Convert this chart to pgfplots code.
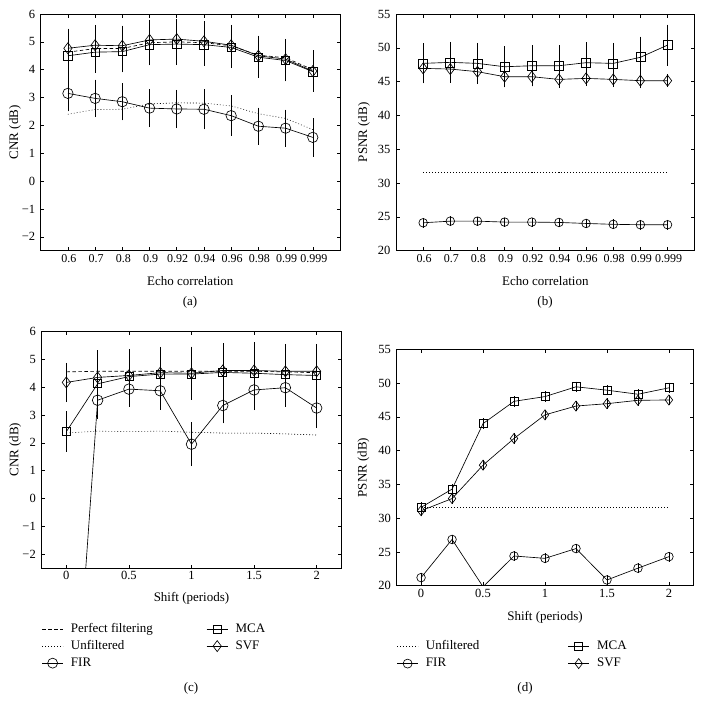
\documentclass[border=0pt]{standalone}
\usepackage{fontspec}
\setmainfont{Liberation Serif}
\usepackage{pgfplots}
\usepackage{pgfplotstable}
\pgfplotsset{compat=1.18}

% (a) CNR vs echo correlation
\pgfplotstableread{
x fir fire unf perf mca mcae svf svfe
0 3.15 0.52 2.40 4.63 4.50 0.60 4.77 0.58
1 2.97 0.55 2.57 4.76 4.63 0.62 4.88 0.60
2 2.85 0.54 2.58 4.76 4.65 0.62 4.86 0.60
3 2.62 0.56 2.77 4.97 4.90 0.62 5.07 0.60
4 2.59 0.56 2.81 5.00 4.92 0.63 5.10 0.60
5 2.58 0.60 2.80 4.97 4.90 0.63 5.02 0.60
6 2.35 0.60 2.70 4.86 4.80 0.62 4.88 0.60
7 1.97 0.54 2.42 4.52 4.45 0.62 4.50 0.60
8 1.90 0.54 2.25 4.43 4.33 0.62 4.38 0.60
9 1.57 0.57 1.85 4.00 3.93 0.60 3.95 0.62
}\tabA
% (b) PSNR vs echo correlation
\pgfplotstableread{
x fir fire unf mca mcae svf svfe
0 24.13 0.35 31.6 47.70 2.50 46.96 1.70
1 24.37 0.35 31.6 47.85 2.60 46.86 1.60
2 24.37 0.30 31.6 47.70 2.60 46.47 1.40
3 24.23 0.30 31.6 47.20 2.60 45.73 1.10
4 24.23 0.30 31.6 47.35 2.60 45.73 1.00
5 24.18 0.30 31.6 47.35 2.60 45.33 0.80
6 24.03 0.30 31.6 47.80 2.60 45.48 0.70
7 23.90 0.35 31.6 47.70 2.60 45.33 0.70
8 23.84 0.35 31.6 48.60 2.60 45.14 0.70
9 23.84 0.35 31.6 50.40 2.60 45.14 0.50
}\tabB
% (c) CNR vs shift
\pgfplotstableread{
x fir fire unf perf mca mcae svf svfe
0 -12.4 0.60 2.35 4.55 2.40 0.60 4.17 0.58
0.25 3.53 0.55 2.42 4.57 4.12 0.72 4.35 0.85
0.5 3.93 0.50 2.40 4.57 4.38 0.72 4.42 0.82
0.75 3.87 0.55 2.42 4.57 4.47 0.68 4.52 0.80
1 1.95 0.66 2.38 4.57 4.47 0.68 4.50 0.83
1.25 3.34 0.52 2.35 4.57 4.53 0.66 4.60 0.85
1.5 3.90 0.60 2.35 4.57 4.50 0.65 4.60 0.88
1.75 3.98 0.55 2.32 4.55 4.45 0.65 4.57 0.86
2 3.25 0.60 2.28 4.52 4.42 0.64 4.57 0.86
}\tabC
% (d) PSNR vs shift
\pgfplotstableread{
x fir fire unf mca mcae svf svfe
0 21.20 0.35 31.55 31.60 0.40 31.10 0.40
0.25 26.85 0.35 31.55 34.30 0.40 32.90 0.40
0.5 19.85 0.35 31.55 44.00 0.40 37.85 0.40
0.75 24.40 0.35 31.55 47.30 0.40 41.80 0.40
1 24.05 0.35 31.55 48.00 0.40 45.30 0.40
1.25 25.50 0.35 31.55 49.45 0.40 46.60 0.40
1.5 20.85 0.35 31.55 48.95 0.40 46.95 0.40
1.75 22.60 0.35 31.55 48.35 0.40 47.45 0.40
2 24.30 0.35 31.55 49.30 0.40 47.50 0.40
}\tabD

\newcommand\tickfont{\fontsize{12.5}{14}\selectfont}
\newcommand\labfont{\fontsize{13}{15}\selectfont}

\pgfplotsset{
  panel/.style={
    scale only axis, anchor=south west,
    axis line style={line width=0.6pt},
    tick align=inside, major tick length=3.5pt,
    tick style={black, line width=0.5pt},
    /pgf/number format/assume math mode=true,
    tick label style={font=\tickfont},
    label style={font=\labfont},
    yticklabel style={xshift=-2pt},
    clip marker paths=true,
    legend cell align=left,
    legend image code/.code={\draw[mark repeat=2,mark phase=2,##1]
      plot coordinates {(0pt,0pt) (10.5pt,0pt) (21pt,0pt)};},
  },
  echo/.style={xmin=-1, xmax=10, xtick={0,...,9},
    xticklabels={0.6,0.7,0.8,0.9,0.92,0.94,0.96,0.98,0.99,0.999},
    xticklabel style={font=\fontsize{12}{14}\selectfont, xshift=1pt}},
  ln/.style={black, line width=0.65pt},
  perf/.style={ln, dash pattern=on 3.5pt off 2.5pt, mark=none},
  unf/.style={black, line width=0.6pt, dash pattern=on 0.8pt off 2.2pt, mark=none},
  fir/.style={ln, mark=o, mark size=#1, mark options={solid}},
  mca/.style={ln, mark=square, mark size=#1, mark options={solid}},
  svf/.style={ln, mark=diamond, mark size=#1, mark options={solid}},
  eb/.style={
    /pgfplots/error bars/y dir=both,
    /pgfplots/error bars/y explicit,
    /pgfplots/error bars/error bar style={black, line width=0.55pt},
    /pgfplots/error bars/error mark options={black, line width=0.55pt, mark size=#1}},
  leg/.style={legend columns=2,
    legend style={at={(axis description cs:0.001,#1)}, anchor=north west,
      draw=none, fill=none, inner sep=0pt, font=\labfont,
      nodes={inner sep=1.5pt, text height=9pt, text depth=3pt},
      row sep=2pt,
      /tikz/every odd column/.append style={column sep=6pt}}},
}

\begin{document}
\begin{tikzpicture}
\path[use as bounding box] (0,0) rectangle (704pt,-702pt);

% ---------- (a)
\begin{axis}[panel, echo, at={(40.7pt,-250.7pt)}, width=299.3pt, height=236.7pt,
  ymin=-2.5, ymax=6,
  ytick={-2,...,6}, yticklabels={−2,−1,0,1,2,3,4,5,6},
  xlabel={Echo correlation}, ylabel={CNR (dB)},
  x label style={at={(axis description cs:0.5,-0.128)}, anchor=center},
  y label style={at={(axis description cs:-0.086,0.5)}, anchor=center},
]
\addplot[unf] table[x=x,y=unf] {\tabA};
\addplot[perf] table[x=x,y=perf] {\tabA};
\addplot[mca=4.2pt, eb=3.5pt] table[x=x,y=mca,y error=mcae] {\tabA};
\addplot[svf=5.5pt, eb=3.5pt] table[x=x,y=svf,y error=svfe] {\tabA};
\addplot[fir=5.2pt, eb=3.5pt] table[x=x,y=fir,y error=fire] {\tabA};
\end{axis}

% ---------- (b)
\begin{axis}[panel, echo, at={(396pt,-250.7pt)}, width=298.7pt, height=236.7pt,
  ymin=20, ymax=55,
  ytick={20,25,...,55},
  xlabel={Echo correlation}, ylabel={PSNR (dB)},
  x label style={at={(axis description cs:0.5,-0.128)}, anchor=center},
  y label style={at={(axis description cs:-0.107,0.5)}, anchor=center},
]
\addplot[unf] table[x=x,y=unf] {\tabB};
\addplot[mca=4.5pt, eb=3pt] table[x=x,y=mca,y error=mcae] {\tabB};
\addplot[svf=5.5pt, eb=3pt] table[x=x,y=svf,y error=svfe] {\tabB};
\addplot[fir=4.3pt, eb=2.5pt] table[x=x,y=fir,y error=fire] {\tabB};
\end{axis}

% ---------- (c)
\begin{axis}[panel, at={(41.3pt,-568pt)}, width=300.4pt, height=236.5pt,
  xmin=-0.2, xmax=2.2, ymin=-2.5, ymax=6,
  xtick={0,0.5,...,2},
  ytick={-2,...,6}, yticklabels={−2,−1,0,1,2,3,4,5,6},
  xlabel={Shift (periods)}, ylabel={CNR (dB)},
  x label style={at={(axis description cs:0.5,-0.127)}, anchor=center},
  y label style={at={(axis description cs:-0.087,0.5)}, anchor=center},
  leg=-0.226,
  legend style={/tikz/every even column/.append style={column sep=52pt}},
]
\addplot[unf, forget plot] table[x=x,y=unf] {\tabC};
\addplot[perf, forget plot] table[x=x,y=perf] {\tabC};
\addplot[mca=4pt, eb=3.5pt, forget plot] table[x=x,y=mca,y error=mcae] {\tabC};
\addplot[svf=5.5pt, eb=3.5pt, forget plot] table[x=x,y=svf,y error=svfe] {\tabC};
\addplot[fir=5.3pt, eb=3.5pt, forget plot] table[x=x,y=fir,y error=fire] {\tabC};
\addlegendimage{perf}\addlegendentry{Perfect filtering}
\addlegendimage{mca=4pt}\addlegendentry{MCA}
\addlegendimage{unf}\addlegendentry{Unfiltered}
\addlegendimage{svf=5.5pt}\addlegendentry{SVF}
\addlegendimage{fir=5pt}\addlegendentry{FIR}
\end{axis}

% ---------- (d)
\begin{axis}[panel, at={(396.3pt,-585.7pt)}, width=297.4pt, height=236.4pt,
  xmin=-0.2, xmax=2.2, ymin=20, ymax=55,
  xtick={0,0.5,...,2},
  ytick={20,25,...,55},
  xlabel={Shift (periods)}, ylabel={PSNR (dB)},
  x label style={at={(axis description cs:0.5,-0.132)}, anchor=center},
  y label style={at={(axis description cs:-0.11,0.5)}, anchor=center},
  leg=-0.225,
  legend style={/tikz/every even column/.append style={column sep=87pt}},
]
\addplot[unf, forget plot] table[x=x,y=unf] {\tabD};
\addplot[mca=4pt, eb=2.5pt, forget plot] table[x=x,y=mca,y error=mcae] {\tabD};
\addplot[svf=5pt, eb=2.5pt, forget plot] table[x=x,y=svf,y error=svfe] {\tabD};
\addplot[fir=4.3pt, eb=2.5pt, forget plot] table[x=x,y=fir,y error=fire] {\tabD};
\addlegendimage{unf}\addlegendentry{Unfiltered}
\addlegendimage{mca=4pt}\addlegendentry{MCA}
\addlegendimage{fir=4.5pt}\addlegendentry{FIR}
\addlegendimage{svf=5pt}\addlegendentry{SVF}
\end{axis}

\node[font=\labfont] at (190pt,-302pt) {(a)};
\node[font=\labfont] at (545pt,-302pt) {(b)};
\node[font=\labfont] at (191pt,-688pt) {(c)};
\node[font=\labfont] at (525pt,-688pt) {(d)};
\end{tikzpicture}
\end{document}
